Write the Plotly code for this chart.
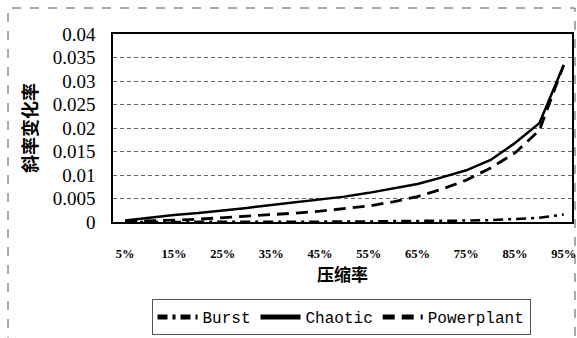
import plotly.graph_objects as go

rates = [5, 10, 15, 20, 25, 30, 35, 40, 45, 50, 55, 60, 65, 70, 75, 80, 85, 90, 95]
tick_vals = [5, 15, 25, 35, 45, 55, 65, 75, 85, 95]
tick_text = ["5%", "15%", "25%", "35%", "45%", "55%", "65%", "75%", "85%", "95%"]
y_ticks = [0, 0.005, 0.01, 0.015, 0.02, 0.025, 0.03, 0.035, 0.04]
y_tick_text = ["0", "0.005", "0.01", "0.015", "0.02", "0.025", "0.03", "0.035", "0.04"]

burst = [0.0, 0.0, 0.0001, 0.0001, 0.0001, 0.0001, 0.0001, 0.0001, 0.0001, 0.0001,
         0.0001, 0.0002, 0.0002, 0.0002, 0.0003, 0.0004, 0.0006, 0.0009, 0.0016]
chaotic = [0.0003, 0.0009, 0.0015, 0.0019, 0.0024, 0.003, 0.0036, 0.0042, 0.0047, 0.0054,
           0.0062, 0.0072, 0.0081, 0.0095, 0.011, 0.0132, 0.0168, 0.021, 0.0334]
powerplant = [0.0001, 0.0002, 0.0004, 0.0006, 0.0009, 0.0012, 0.0016, 0.0019, 0.0023, 0.0028,
              0.0034, 0.0043, 0.0054, 0.007, 0.0089, 0.0115, 0.0147, 0.0195, 0.0334]

fig = go.Figure()
fig.add_trace(go.Scatter(x=rates, y=burst, mode="lines", name="Burst",
                         line=dict(color="black", width=2.5, dash="10px,5px,3px,5px")))
fig.add_trace(go.Scatter(x=rates, y=chaotic, mode="lines", name="Chaotic",
                         line=dict(color="black", width=2.5)))
fig.add_trace(go.Scatter(x=rates, y=powerplant, mode="lines", name="Powerplant",
                         line=dict(color="black", width=2.8, dash="12px,7px")))

W, H = 577, 338
L, R, T, B = 113, 572, 34, 222
pw, ph = R - L, B - T

def px(x):
    return (x - L) / pw

def py(y):
    return (B - y) / ph

fig.update_layout(
    width=W, height=H,
    margin=dict(l=L, r=W - R, t=T, b=H - B, autoexpand=False),
    paper_bgcolor="white", plot_bgcolor="white",
    font=dict(family="Liberation Serif, Noto Sans CJK SC", color="black"),
    showlegend=True,
    legend=dict(orientation="h", x=341 / W, xanchor="center", xref="container",
                y=1 - 317 / H, yanchor="middle", yref="container",
                font=dict(family="Liberation Mono, Noto Sans CJK SC", size=16, color="black"),
                bordercolor="#555", borderwidth=1, itemwidth=40,
                tracegroupgap=0, itemsizing="constant"),
    xaxis=dict(range=[2.5, 96.7], tickvals=tick_vals, ticktext=tick_text, automargin=False,
               showgrid=False, zeroline=False, showline=True, linecolor="black", linewidth=1.5,
               mirror=True, ticks="", ticklabelstandoff=19, ticklabeloverflow="allow",
               tickfont=dict(family="Liberation Serif", size=12.5, weight="bold"),
               title=dict(text="压缩率", font=dict(family="Noto Sans CJK SC", size=17, weight="bold"),
                          standoff=0)),
    yaxis=dict(range=[0, 0.04], tickvals=y_ticks, ticktext=y_tick_text, automargin=False,
               showgrid=True, gridcolor="#666", griddash="4px,3px", gridwidth=1,
               zeroline=False, showline=True, linecolor="black", linewidth=1.5,
               mirror=True, ticks="", ticklabelstandoff=12, ticklabeloverflow="allow",
               tickfont=dict(family="Liberation Serif", size=19),
               title=dict(text="斜率变化率", font=dict(family="Noto Sans CJK SC", size=18, weight="bold"),
                          standoff=10)),
    shapes=[dict(type="rect", xref="paper", yref="paper",
                 x0=px(8), x1=px(575), y0=py(345), y1=py(8),
                 line=dict(color="#555", width=1, dash="dash"), layer="below")],
)

fig.write_html("out.html", config={"displayModeBar": False},
               post_script="document.body.style.margin='0';document.body.style.overflow='hidden';")
